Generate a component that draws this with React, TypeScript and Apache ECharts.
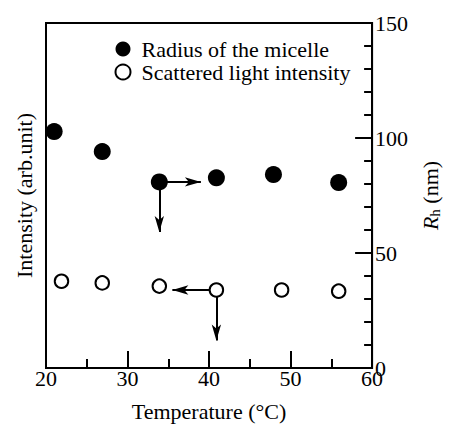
import React, { useEffect, useRef } from "react";
import * as echarts from "echarts";

const temperatureRadius = [21.0, 26.9, 33.9, 40.9, 47.9, 55.9];
const radiusValues = [102.8, 94.1, 80.9, 82.7, 84.1, 80.6];
const temperatureIntensity = [21.9, 26.9, 33.9, 40.9, 48.9, 55.9];
const intensityValues = [37.7, 37.0, 35.6, 33.9, 33.9, 33.4];
// arrow tips
const radiusArrowRightTo = 39.0;
const radiusArrowDownTo = 59.1;
const intensityArrowLeftTo = 35.5;
const intensityArrowDownTo = 12;

const FONT = "'Liberation Serif', 'Times New Roman', serif";

export default function App() {
  const ref = useRef<HTMLDivElement>(null);
  useEffect(() => {
    const chart = echarts.init(ref.current!, undefined, { renderer: "svg" });
    const rIdx = 2;
    const iIdx = 3;
    const arrowLine = {
      silent: true,
      symbol: ["none", "arrow"],
      symbolSize: [7, 16],
      lineStyle: { color: "#000", width: 2, type: "solid", opacity: 1 },
      itemStyle: { color: "#000" },
      label: { show: false },
      emphasis: { disabled: true },
    };
    chart.setOption({
      animation: false,
      textStyle: { fontFamily: FONT, color: "#000" },
      grid: {
        left: 46,
        right: 53,
        top: 23,
        bottom: 54,
        show: true,
        borderColor: "#000",
        borderWidth: 2,
        containLabel: false,
      },
      legend: {
        orient: "vertical",
        left: 114.5,
        top: 38,
        itemWidth: 27,
        itemHeight: 15,
        itemGap: 1,
        padding: 0,
        textStyle: { fontFamily: FONT, fontSize: 22, lineHeight: 22, color: "#000" },
        data: [
          { name: "Radius of the micelle", icon: "circle" },
          { name: "Scattered light intensity", icon: "circle" },
        ],
      },
      xAxis: {
        type: "value",
        min: 20,
        max: 60,
        interval: 10,
        name: "Temperature (°C)",
        nameLocation: "middle",
        nameGap: 32,
        nameTextStyle: { fontFamily: FONT, fontSize: 22, lineHeight: 22, color: "#000" },
        axisLine: { show: true, lineStyle: { color: "#000", width: 2 } },
        axisTick: { show: true, inside: true, length: 17, lineStyle: { color: "#000", width: 2 } },
        minorTick: { show: true, splitNumber: 2, length: 9, lineStyle: { color: "#000", width: 2 } },
        axisLabel: { fontFamily: FONT, fontSize: 22, lineHeight: 22, color: "#000", margin: -1 },
        splitLine: { show: false },
      },
      yAxis: [
        {
          type: "value",
          min: 0,
          max: 150,
          position: "left",
          name: "Intensity (arb.unit)",
          nameLocation: "middle",
          nameRotate: 90,
          nameGap: 11,
          nameTextStyle: { fontFamily: FONT, fontSize: 22, lineHeight: 22, color: "#000" },
          axisLine: { show: true, lineStyle: { color: "#000", width: 2 } },
          axisTick: { show: false },
          axisLabel: { show: false },
          splitLine: { show: false },
        },
        {
          type: "value",
          min: 0,
          max: 150,
          interval: 50,
          position: "right",
          name: "{i|R}{s|h} (nm)",
          nameLocation: "middle",
          nameRotate: 90,
          nameGap: 30,
          nameTextStyle: {
            fontFamily: FONT,
            fontSize: 22,
            color: "#000",
            rich: {
              i: { fontFamily: FONT, fontSize: 22, fontStyle: "italic", color: "#000" },
              s: { fontFamily: FONT, fontSize: 15, color: "#000", verticalAlign: "bottom", padding: [9, 0, 0, 0] },
            },
          },
          axisLine: { show: true, lineStyle: { color: "#000", width: 2 } },
          axisTick: { show: true, inside: true, length: 17, lineStyle: { color: "#000", width: 2 } },
          minorTick: { show: true, splitNumber: 5, length: 8, lineStyle: { color: "#000", width: 2 } },
          axisLabel: { fontFamily: FONT, fontSize: 22, color: "#000", margin: 3 },
          splitLine: { show: false },
        },
      ],
      series: [
        {
          name: "Radius of the micelle",
          type: "scatter",
          yAxisIndex: 1,
          symbol: "circle",
          symbolSize: 17,
          z: 5,
          itemStyle: { color: "#000", opacity: 1 },
          data: temperatureRadius.map((t, i) => [t, radiusValues[i]]),
          markLine: {
            ...arrowLine,
            data: [
              [
                { coord: [temperatureRadius[rIdx], radiusValues[rIdx]] },
                { coord: [radiusArrowRightTo, radiusValues[rIdx]] },
              ],
              [
                { coord: [temperatureRadius[rIdx], radiusValues[rIdx]] },
                { coord: [temperatureRadius[rIdx], radiusArrowDownTo] },
              ],
            ],
          },
        },
        {
          name: "Scattered light intensity",
          type: "scatter",
          yAxisIndex: 0,
          symbol: "circle",
          symbolSize: 13.5,
          z: 5,
          itemStyle: { color: "#fff", borderColor: "#000", borderWidth: 2, opacity: 1 },
          data: temperatureIntensity.map((t, i) => [t, intensityValues[i]]),
          markLine: {
            ...arrowLine,
            data: [
              [
                { coord: [temperatureIntensity[iIdx], intensityValues[iIdx]] },
                { coord: [intensityArrowLeftTo, intensityValues[iIdx]] },
              ],
              [
                { coord: [temperatureIntensity[iIdx], intensityValues[iIdx]] },
                { coord: [temperatureIntensity[iIdx], intensityArrowDownTo] },
              ],
            ],
          },
        },
      ],
    });
    return () => chart.dispose();
  }, []);
  return <div ref={ref} style={{ width: 450, height: 427, position: "absolute", left: 0, top: 0, background: "#fff" }} />;
}
